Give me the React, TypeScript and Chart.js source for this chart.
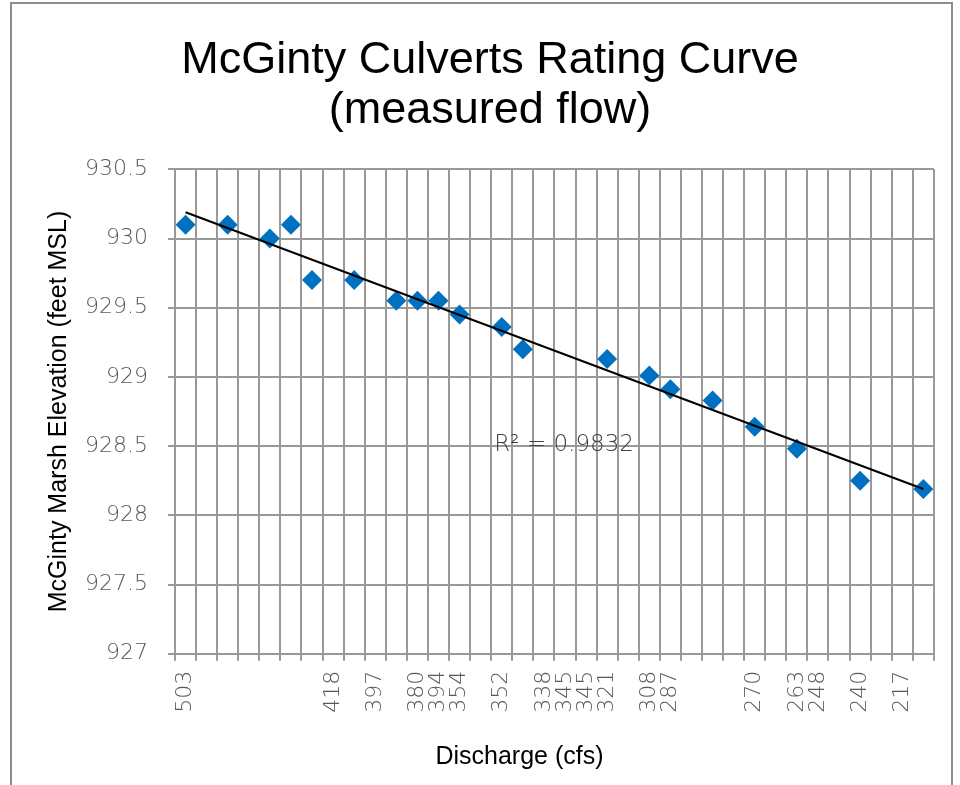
import React, { useEffect, useRef } from 'react';
import { Chart, registerables } from 'chart.js';

Chart.register(...registerables);

// ---- data ----
const CATEGORY_LABELS = [
  '503', '', '', '', '', '', '', '418', '', '397', '', '380', '394', '354', '', '352', '',
  '338', '345', '345', '321', '', '308', '287', '', '', '', '270', '', '263', '248', '', '240', '', '217', '',
];
const POINT_CATEGORIES = [0, 2, 4, 5, 6, 8, 10, 11, 12, 13, 15, 16, 20, 22, 23, 25, 27, 29, 32, 35];
const ELEVATIONS = [
  930.1, 930.1, 930.0, 930.1, 929.7, 929.7, 929.55, 929.55, 929.55, 929.45,
  929.36, 929.2, 929.13, 929.01, 928.91, 928.83, 928.64, 928.48, 928.25, 928.19,
];
const TREND_CATEGORIES = [0, 35];
const TREND_VALUES = [930.19, 928.19];
const Y_MIN = 927;
const Y_MAX = 930.5;
const Y_STEP = 0.5;
const R2_TEXT = 'R² = 0.9832';
const R2_AT = { category: 14.65, value: 928.5 };

const TITLE_LINES = ['McGinty Culverts Rating Curve', '(measured flow)'];
const X_TITLE = 'Discharge (cfs)';
const Y_TITLE = 'McGinty Marsh Elevation (feet MSL)';

const TICK_FONT = "'DejaVu Sans ExtraLight', 'DejaVu Sans', sans-serif";
const GRID = '#999999';

function fillByCategory(cats: number[], vals: number[]): (number | null)[] {
  const out: (number | null)[] = CATEGORY_LABELS.map(() => null);
  cats.forEach((c, i) => { out[c] = vals[i]; });
  return out;
}

const extraText = {
  id: 'extraText',
  afterDraw(chart: any) {
    const { ctx, chartArea, scales } = chart;
    const xs = scales.x;
    const ys = scales.y;
    ctx.save();
    // R² label
    const i0 = Math.floor(R2_AT.category);
    const frac = R2_AT.category - i0;
    const px = xs.getPixelForValue(i0) + frac * (xs.getPixelForValue(i0 + 1) - xs.getPixelForValue(i0));
    const py = ys.getPixelForValue(R2_AT.value) + 5;
    ctx.font = `200 23px ${TICK_FONT}`;
    ctx.fillStyle = '#404040';
    ctx.textAlign = 'left';
    ctx.textBaseline = 'alphabetic';
    ctx.fillText(R2_TEXT, px, py);
    // x axis title
    ctx.font = "25px 'Liberation Sans', Arial, sans-serif";
    ctx.fillStyle = '#000';
    ctx.textAlign = 'center';
    ctx.fillText(X_TITLE, (chartArea.left + chartArea.right) / 2 - 35, chart.height - 21);
    ctx.restore();
  },
};

export default function App() {
  const ref = useRef<HTMLCanvasElement | null>(null);

  useEffect(() => {
    if (!ref.current) return;
    const chart = new Chart(ref.current, {
      type: 'line',
      data: {
        labels: CATEGORY_LABELS,
        datasets: [
          {
            label: 'Linear trend',
            data: fillByCategory(TREND_CATEGORIES, TREND_VALUES),
            borderColor: '#000',
            borderWidth: 2,
            pointRadius: 0,
            spanGaps: true,
            fill: false,
            tension: 0,
            order: 0,
          },
          {
            label: 'Elevation',
            data: fillByCategory(POINT_CATEGORIES, ELEVATIONS),
            showLine: false,
            pointStyle: 'rectRot',
            pointRadius: 10,
            pointBackgroundColor: '#0070C0',
            pointBorderWidth: 0,
            borderColor: '#0070C0',
            order: 1,
          },
        ],
      },
      options: {
        animation: false,
        responsive: false,
        devicePixelRatio: 1,
        layout: { padding: { left: 38.3, right: 18.3, top: 0, bottom: 0 } },
        plugins: {
          legend: { display: false },
          tooltip: { enabled: false },
          title: {
            display: true,
            text: TITLE_LINES,
            color: '#000',
            font: {
              family: "'Liberation Sans', Arial, sans-serif",
              size: 45,
              weight: 'normal',
              lineHeight: 50 / 45,
            },
            padding: { top: 36, bottom: 33.3 },
          },
        },
        scales: {
          x: {
            type: 'category',
            offset: true,
            grid: { offset: true, color: GRID, lineWidth: 2, tickLength: 7, drawTicks: true },
            border: { color: GRID, width: 2 },
            ticks: {
              autoSkip: false,
              minRotation: 90,
              maxRotation: 90,
              padding: 10,
              color: '#595959',
              font: { family: TICK_FONT, size: 22, weight: '200' },
            },
            afterFit(s: any) { s.height = 785 - 653.7; },
          },
          y: {
            type: 'linear',
            min: Y_MIN,
            max: Y_MAX,
            grid: { color: GRID, lineWidth: 2, tickLength: 7 },
            border: { color: GRID, width: 2 },
            ticks: {
              stepSize: Y_STEP,
              padding: 20,
              color: '#595959',
              font: { family: TICK_FONT, size: 22, weight: '200' },
              callback: (v: any) => String(v),
            },
            title: {
              display: true,
              text: Y_TITLE,
              color: '#000',
              font: { family: "'Liberation Sans', Arial, sans-serif", size: 25, weight: 'normal', lineHeight: 1.2 },
              padding: { top: 6.3, bottom: 0 },
            },
            afterFit(s: any) { s.width = 175 - 38.3; },
          },
        },
      },
      plugins: [extraText],
    } as any);
    return () => chart.destroy();
  }, []);

  return (
    <div style={{ position: 'absolute', left: 0, top: 0, width: 960, height: 785, overflow: 'hidden', background: '#fff' }}>
      <div
        style={{
          position: 'absolute', left: 10, top: 2, width: 943, height: 840,
          border: '2px solid #8c8c8c', boxSizing: 'border-box',
        }}
      />
      <canvas ref={ref} width={960} height={785} style={{ position: 'absolute', left: 0, top: 0 }} />
    </div>
  );
}
